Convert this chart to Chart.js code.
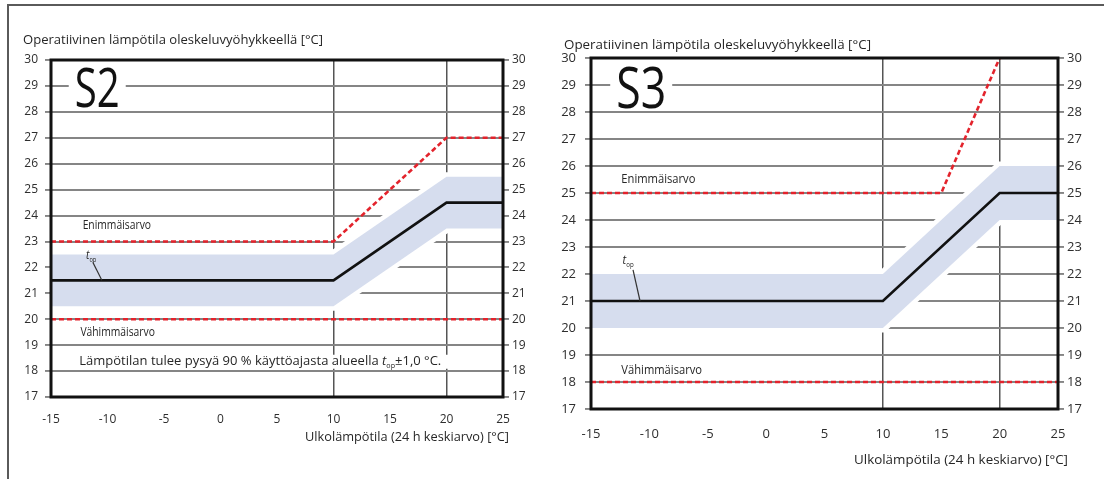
<!DOCTYPE html>
<html>
<head>
<meta charset="utf-8">
<script src="https://cdn.jsdelivr.net/npm/chart.js@4.4.1/dist/chart.umd.min.js"></script>
<style>
  html, body { margin: 0; padding: 0; background: #fff; }
  body { width: 1104px; height: 479px; position: relative; overflow: hidden; }
  #frame { position: absolute; left: 7px; top: 4px; width: 1110px; height: 490px;
           border-top: 2px solid #5a5a5a; border-left: 2px solid #5a5a5a; }
  .panel { position: absolute; top: 0; }
  canvas { display: block; }
</style>
</head>
<body>
<div id="frame"></div>
<div class="panel" style="left:0;width:550px;height:479px"><canvas id="s2" width="550" height="479"></canvas></div>
<div class="panel" style="left:550px;width:554px;height:479px"><canvas id="s3" width="554" height="479"></canvas></div>

<script>
// Outdoor temperature axis (24 h mean, °C) and indoor operative temperature axis (°C)
const xTicks = [-15, -10, -5, 0, 5, 10, 15, 20, 25];
const yTicks = [17, 18, 19, 20, 21, 22, 23, 24, 25, 26, 27, 28, 29, 30];
const xMarkers = [10, 20];

// Class S2
const s2Outdoor = [-15, 10, 20, 25];
const s2Target  = [21.5, 21.5, 24.5, 24.5];
const s2Upper   = [22.5, 22.5, 25.5, 25.5];
const s2Lower   = [20.5, 20.5, 23.5, 23.5];
const s2MaxOutdoor = [-15, 10, 20, 25];
const s2Max        = [23, 23, 27, 27];
const s2MinOutdoor = [-15, 25];
const s2Min        = [20, 20];

// Class S3
const s3Outdoor = [-15, 10, 20, 25];
const s3Target  = [21, 21, 25, 25];
const s3Upper   = [22, 22, 26, 26];
const s3Lower   = [20, 20, 24, 24];
const s3MaxOutdoor = [-15, 15, 20];
const s3Max        = [25, 25, 30];
const s3MinOutdoor = [-15, 25];
const s3Min        = [18, 18];

const BAND = 'rgb(214,221,238)';
const RED = '#e3232c';
const GRID = '#858585';
const TEXT = '#262626';
const FONT = "'Open Sans', 'Noto Sans', sans-serif";
const TICK_FONT = "'Liberation Sans Narrow', 'Open Sans', sans-serif";

const pts = (xs, ys) => xs.map((x, i) => ({ x, y: ys[i] }));

// Horizontally condensed text, optionally fitted to a width
function txt(ctx, s, x, y, o) {
  const size = o.size || 12;
  ctx.save();
  ctx.font = `${o.style || ''} ${size}px ${FONT}`;
  const w0 = ctx.measureText(s).width;
  const k = o.width ? o.width / w0 : (o.sx || 1);
  const w = w0 * k;
  const left = o.align === 'right' ? x - w : (o.align === 'center' ? x - w / 2 : x);
  if (o.bg) {
    ctx.fillStyle = '#fff';
    ctx.fillRect(left - o.bg[0], y - o.bg[1], w + o.bg[0] + o.bg[2], o.bg[1] + o.bg[3]);
  }
  ctx.translate(left, y);
  ctx.scale(k, 1);
  ctx.textAlign = 'left';
  ctx.textBaseline = o.base || 'middle';
  ctx.fillStyle = o.color || TEXT;
  ctx.fillText(s, 0, 0);
  ctx.restore();
  return w;
}

function natural(ctx, s, size, style) {
  ctx.save();
  ctx.font = `${style || ''} ${size}px ${FONT}`;
  const w = ctx.measureText(s).width;
  ctx.restore();
  return w;
}

// t_op symbol with subscript
function tOp(ctx, x, y, size, k) {
  let w = txt(ctx, 't', x, y, { size, sx: k, style: 'italic' });
  txt(ctx, 'op', x + w, y + size * 0.35, { size: size * 0.55, sx: k });
  return w + natural(ctx, 'op', size * 0.55) * k;
}

function decorPlugin(spec) {
  return {
    id: 'panelDecor',
    afterDatasetsDraw(chart) {
      const { ctx, chartArea: a, scales } = chart;
      const X = v => scales.x.getPixelForValue(v);
      const Y = v => scales.y.getPixelForValue(v);

      // plot frame
      ctx.save();
      ctx.strokeStyle = '#111';
      ctx.lineWidth = 3;
      ctx.strokeRect(a.left, a.top, a.right - a.left, a.bottom - a.top);
      ctx.restore();

      // class badge
      const b = spec.badge;
      txt(ctx, b.text, X(b.x), Y(b.y), { size: b.size, width: b.width, base: 'alphabetic', color: '#111',
        bg: [6, b.size * 0.75, 6, 2] });

      const k = spec.sx;
      txt(ctx, 'Enimmäisarvo', X(spec.maxLabel[0]), Y(spec.maxLabel[1]), { size: spec.labelSize, sx: k });
      txt(ctx, 'Vähimmäisarvo', X(spec.minLabel[0]), Y(spec.minLabel[1]), { size: spec.labelSize, sx: k });

      // t_op leader
      const t = spec.tLabel;
      tOp(ctx, X(t.at[0]), Y(t.at[1]), spec.labelSize, k);
      ctx.save();
      ctx.strokeStyle = '#333';
      ctx.lineWidth = 1.2;
      ctx.beginPath();
      ctx.moveTo(X(t.from[0]), Y(t.from[1]));
      ctx.lineTo(X(t.to[0]), Y(t.to[1]));
      ctx.stroke();
      ctx.restore();

      // footnote with white backing over the grid
      if (spec.note) {
        const n = spec.note;
        const p1 = 'Lämpötilan tulee pysyä 90 % käyttöajasta alueella ';
        const p3 = '±1,0 °C.';
        const sz = spec.labelSize;
        const total = natural(ctx, p1, sz) + natural(ctx, 't', sz, 'italic') +
                      natural(ctx, 'op', sz * 0.55) + natural(ctx, p3, sz);
        const kk = n.width / total;
        let x = X(n.x);
        const y = Y(n.y);
        ctx.fillStyle = '#fff';
        ctx.fillRect(x - 2, y - 7, X(n.bgEnd) - x + 2, 14);
        x += txt(ctx, p1, x, y, { size: sz, sx: kk });
        x += tOp(ctx, x, y, sz, kk);
        txt(ctx, p3, x, y, { size: sz, sx: kk });
      }

      // axis captions
      const ty = spec.yTitle;
      txt(ctx, 'Operatiivinen lämpötila oleskeluvyöhykkeellä [°C]', ty.x, ty.y, { size: ty.size, width: ty.width });
      const tx = spec.xTitle;
      txt(ctx, 'Ulkolämpötila (24 h keskiarvo) [°C]', tx.x, tx.y, { size: tx.size, width: tx.width, align: 'right' });
    }
  };
}

function makePanel(id, d, spec) {
  const line = (data, extra) => Object.assign({
    data, pointRadius: 0, borderWidth: 0, borderColor: 'rgba(0,0,0,0)', fill: false, tension: 0
  }, extra);

  const datasets = [
    line(pts(d.outdoor, d.target), { borderColor: '#111', borderWidth: 2.6, order: 1 }),
    line(pts(d.maxOutdoor, d.max), { borderColor: RED, borderWidth: 2.6, borderDash: [5, 3], order: 0 }),
    line(pts(d.minOutdoor, d.min), { borderColor: RED, borderWidth: 2.6, borderDash: [5, 3], order: 0 }),
    line(pts(d.outdoor, d.upper), { fill: '+1', backgroundColor: BAND, order: 3 }),
    line(pts(d.outdoor, d.lower), { order: 3 }),
    line(pts(d.outdoor, d.upper), { borderColor: '#fff', borderWidth: 9, order: 5, clip: 0 }),
    line(pts(d.outdoor, d.lower), { borderColor: '#fff', borderWidth: 9, order: 5, clip: 0 })
  ];

  const yTickCfg = {
    color: '#2e2e2e',
    font: { family: TICK_FONT, size: spec.tickSize },
    autoSkip: false
  };

  return new Chart(document.getElementById(id), {
    type: 'line',
    data: { datasets },
    plugins: [decorPlugin(spec)],
    options: {
      responsive: false,
      animation: false,
      events: [],
      layout: { padding: { top: spec.top, left: 0, right: 0, bottom: 0 } },
      plugins: { legend: { display: false }, tooltip: { enabled: false } },
      scales: {
        x: {
          type: 'linear', min: -15, max: 25,
          afterBuildTicks: s => { s.ticks = xTicks.map(v => ({ value: v })); },
          afterFit: s => { s.height = spec.xAxisHeight; },
          border: { display: false },
          grid: {
            drawTicks: false,
            lineWidth: 1.5,
            color: c => (c.tick && xMarkers.includes(c.tick.value)) ? '#555' : 'rgba(0,0,0,0)'
          },
          ticks: { color: '#2e2e2e', font: { family: TICK_FONT, size: spec.tickSize }, padding: spec.xPad, maxRotation: 0 }
        },
        y: {
          type: 'linear', position: 'left', min: 17, max: 30,
          afterBuildTicks: s => { s.ticks = yTicks.map(v => ({ value: v })); },
          afterFit: s => { s.width = spec.leftW; },
          border: { display: false },
          grid: { color: GRID, lineWidth: 1.9, tickLength: 6 },
          ticks: Object.assign({ padding: spec.leftPad }, yTickCfg)
        },
        y2: {
          type: 'linear', position: 'right', min: 17, max: 30,
          afterBuildTicks: s => { s.ticks = yTicks.map(v => ({ value: v })); },
          afterFit: s => { s.width = spec.rightW; },
          border: { display: false },
          grid: { drawOnChartArea: false, color: GRID, lineWidth: 1.9, tickLength: 6 },
          ticks: Object.assign({ padding: 3 }, yTickCfg)
        }
      }
    }
  });
}

makePanel('s2', {
  outdoor: s2Outdoor, target: s2Target, upper: s2Upper, lower: s2Lower,
  maxOutdoor: s2MaxOutdoor, max: s2Max, minOutdoor: s2MinOutdoor, min: s2Min
}, {
  top: 60, leftW: 51, rightW: 47, xAxisHeight: 82, xPad: 15, leftPad: 7, tickSize: 12,
  badge: { text: 'S2', x: -12.9, y: 28.17, size: 54, width: 45 },
  labelSize: 12, sx: 0.86,
  maxLabel: [-12.2, 23.6], minLabel: [-12.4, 19.5],
  tLabel: { at: [-11.9, 22.45], from: [-11.3, 22.2], to: [-10.5, 21.5] },
  note: { x: -12.5, y: 18.36, width: 362, bgEnd: 22.3 },
  yTitle: { x: 23, y: 41, size: 12, width: 300 },
  xTitle: { x: 509, y: 438, size: 12, width: 204 }
});

makePanel('s3', {
  outdoor: s3Outdoor, target: s3Target, upper: s3Upper, lower: s3Lower,
  maxOutdoor: s3MaxOutdoor, max: s3Max, minOutdoor: s3MinOutdoor, min: s3Min
}, {
  top: 58, leftW: 41, rightW: 46, xAxisHeight: 70, xPad: 17, leftPad: 9, tickSize: 13,
  badge: { text: 'S3', x: -12.84, y: 28.16, size: 56, width: 50 },
  labelSize: 13, sx: 0.86,
  maxLabel: [-12.4, 25.5], minLabel: [-12.4, 18.45],
  tLabel: { at: [-12.3, 22.5], from: [-11.4, 22.15], to: [-10.8, 21.0] },
  note: null,
  yTitle: { x: 14, y: 45, size: 12.5, width: 307 },
  xTitle: { x: 518, y: 460, size: 12.5, width: 214 }
});
</script>
</body>
</html>
